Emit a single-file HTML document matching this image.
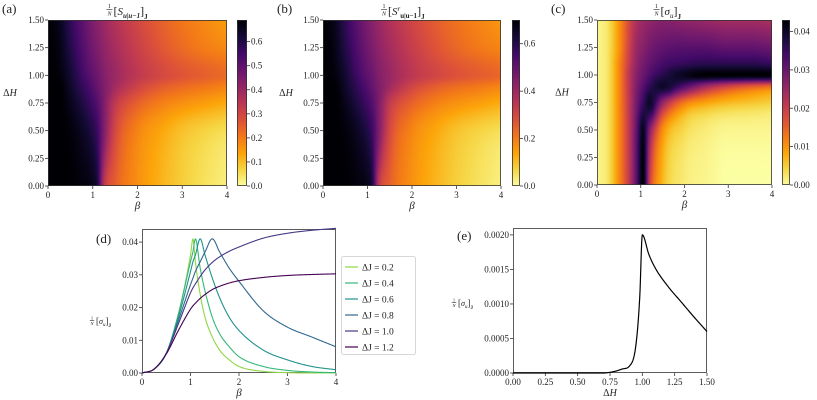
<!DOCTYPE html>
<html><head><meta charset="utf-8">
<style>
body{margin:0;width:817px;height:400px;background:#fff;position:relative;overflow:hidden;font-family:"Liberation Serif",serif}
canvas{position:absolute}
svg{position:absolute;left:0;top:0}
text{font-family:"Liberation Serif",serif;fill:#222}
</style></head><body>
<canvas id="ca" style="left:48px;top:20px" width="179" height="166"></canvas>
<canvas id="cb" style="left:323px;top:20px" width="178" height="166"></canvas>
<canvas id="cc" style="left:597px;top:20px" width="175" height="165"></canvas>
<canvas id="cba" style="left:237px;top:20px" width="10" height="166"></canvas>
<canvas id="cbb" style="left:512px;top:20px" width="8" height="166"></canvas>
<canvas id="cbc" style="left:782px;top:20px" width="8" height="165"></canvas>
<svg id="s" width="817" height="400"></svg>
<script>
// ---- heatmap data (a),(b) ----
const betaAB=[0,0.25,0.5,0.75,1,1.1,1.25,1.5,2,2.5,3,3.5,4];
const dhAB=[0,0.5,0.75,0.9,1.0,1.25,1.5];
const valsA=[
[0.69,0.69,0.69,0.68,0.66,0.62,0.35,0.25,0.17,0.12,0.08,0.05,0.025],
[0.69,0.69,0.68,0.65,0.60,0.56,0.45,0.30,0.19,0.14,0.10,0.075,0.055],
[0.69,0.69,0.66,0.61,0.55,0.52,0.45,0.34,0.25,0.20,0.17,0.15,0.13],
[0.69,0.69,0.64,0.58,0.52,0.49,0.45,0.39,0.31,0.26,0.23,0.21,0.19],
[0.69,0.68,0.63,0.56,0.50,0.48,0.44,0.40,0.34,0.30,0.27,0.25,0.23],
[0.69,0.67,0.60,0.53,0.47,0.45,0.42,0.38,0.32,0.27,0.23,0.20,0.18],
[0.69,0.66,0.58,0.51,0.45,0.43,0.40,0.36,0.30,0.25,0.21,0.18,0.15]];
const valsB=[
[0.70,0.70,0.70,0.69,0.67,0.63,0.35,0.25,0.17,0.12,0.08,0.05,0.025],
[0.70,0.70,0.69,0.66,0.61,0.57,0.46,0.30,0.19,0.14,0.10,0.075,0.055],
[0.70,0.70,0.67,0.62,0.56,0.53,0.46,0.34,0.25,0.20,0.17,0.15,0.13],
[0.70,0.70,0.65,0.59,0.53,0.50,0.46,0.40,0.31,0.26,0.23,0.21,0.19],
[0.70,0.69,0.64,0.57,0.51,0.49,0.45,0.41,0.35,0.31,0.28,0.26,0.24],
[0.70,0.68,0.61,0.54,0.48,0.46,0.43,0.39,0.33,0.28,0.24,0.21,0.19],
[0.70,0.67,0.59,0.52,0.46,0.44,0.41,0.37,0.31,0.26,0.22,0.19,0.16]];
// ---- heatmap (c) ----
const betaC=[0,0.25,0.5,0.75,0.9,1.05,1.2,1.5,2,2.5,3,3.5,4];
const dhC=[0,0.5,0.75,0.9,1.0,1.1,1.25,1.5];
const valsC=[
[0.001,0.003,0.011,0.022,0.032,0.043,0.020,0.007,0.002,0.001,0,0,0],
[0.001,0.003,0.011,0.022,0.031,0.041,0.028,0.011,0.004,0.002,0.001,0.001,0.001],
[0.001,0.003,0.011,0.022,0.029,0.035,0.040,0.026,0.013,0.009,0.007,0.006,0.005],
[0.001,0.003,0.011,0.022,0.028,0.032,0.036,0.040,0.033,0.025,0.020,0.017,0.015],
[0.001,0.003,0.011,0.022,0.027,0.030,0.033,0.037,0.041,0.043,0.043,0.043,0.043],
[0.001,0.003,0.011,0.021,0.026,0.029,0.031,0.034,0.036,0.037,0.037,0.037,0.036],
[0.001,0.003,0.010,0.020,0.025,0.027,0.029,0.031,0.032,0.032,0.031,0.031,0.030],
[0.001,0.003,0.010,0.019,0.023,0.025,0.026,0.027,0.026,0.025,0.024,0.024,0.023]];
const cbTicksA=[0,0.1,0.2,0.3,0.4,0.5,0.6];
const cbTicksB=[0,0.2,0.4,0.6];
const cbTicksC=[0,0.01,0.02,0.03,0.04];
const betaTicks=[0,1,2,3,4];
const dhTicks=[0,0.25,0.5,0.75,1.0,1.25,1.5];
// ---- panel (d) ----
const betaD=[0,0.25,0.5,0.75,1,1.05,1.1,1.2,1.3,1.45,1.6,1.8,2,2.5,3,3.5,4];
const dJ02=[0,0.0012,0.006,0.018,0.036,0.041,0.034,0.024,0.017,0.011,0.007,0.004,0.002,0.0005,0.0001,0,0];
const dJ04=[0,0.0012,0.006,0.018,0.034,0.037,0.041,0.032,0.025,0.017,0.012,0.008,0.005,0.002,0.0008,0.0003,0.0001];
const dJ06=[0,0.0012,0.006,0.017,0.031,0.034,0.036,0.041,0.036,0.029,0.023,0.017,0.013,0.007,0.004,0.002,0.001];
const dJ08=[0,0.0012,0.006,0.016,0.027,0.029,0.031,0.034,0.037,0.041,0.037,0.032,0.028,0.019,0.014,0.011,0.008];
const dJ10=[0,0.0012,0.006,0.015,0.0245,0.026,0.0272,0.0295,0.0315,0.0338,0.0355,0.0372,0.0385,0.0412,0.0427,0.0436,0.0442];
const dJ12=[0,0.0012,0.0058,0.013,0.0195,0.0205,0.0213,0.0228,0.024,0.0255,0.0265,0.0275,0.0282,0.0292,0.0298,0.0301,0.0303];
const dLabels=["ΔJ = 0.2","ΔJ = 0.4","ΔJ = 0.6","ΔJ = 0.8","ΔJ = 1.0","ΔJ = 1.2"];
const dColors=["#8fd744","#35b779","#21918c","#31688e","#443983","#440154"];
const dYTicks=[0,0.01,0.02,0.03,0.04];
// ---- panel (e) ----
const dhE=[0,0.5,0.7,0.75,0.8,0.85,0.9,0.95,0.98,1.0,1.05,1.1,1.2,1.3,1.4,1.5];
const valE=[0,0,0,0.00001,0.00003,0.00006,0.0001,0.0004,0.0011,0.002,0.00172,0.00152,0.00125,0.00103,0.00081,0.0006];
const eXTicks=[0,0.25,0.5,0.75,1.0,1.25,1.5];
const eYTicks=[0,0.0005,0.001,0.0015,0.002];

const stops=[[0,0,0,4],[.1,22,11,57],[.2,66,10,104],[.3,106,23,110],[.4,147,38,103],[.5,188,55,84],[.6,221,81,58],[.7,243,120,25],[.8,252,165,10],[.9,246,215,70],[1,252,255,164]];
function inferno(t){t=Math.max(0,Math.min(1,t));for(let i=1;i<stops.length;i++){if(t<=stops[i][0]){const a=stops[i-1],b=stops[i],f=(t-a[0])/(b[0]-a[0]);return[a[1]+f*(b[1]-a[1]),a[2]+f*(b[2]-a[2]),a[3]+f*(b[3]-a[3])];}}return[252,255,164];}
function mono(xs,ys){const n=xs.length,d=[],m=[];for(let i=0;i<n-1;i++)d.push((ys[i+1]-ys[i])/(xs[i+1]-xs[i]));
m[0]=d[0];m[n-1]=d[n-2];for(let i=1;i<n-1;i++){m[i]=(d[i-1]*d[i]<=0)?0:(d[i-1]+d[i])/2;}
for(let i=0;i<n-1;i++){if(d[i]===0){m[i]=0;m[i+1]=0;continue;}const a=m[i]/d[i],b=m[i+1]/d[i],s=a*a+b*b;if(s>9){const t=3/Math.sqrt(s);m[i]=t*a*d[i];m[i+1]=t*b*d[i];}}
return function(x){let i=0;while(i<n-2&&x>xs[i+1])i++;const h=xs[i+1]-xs[i],t=Math.max(0,Math.min(1,(x-xs[i])/h)),t2=t*t,t3=t2*t;
return (2*t3-3*t2+1)*ys[i]+(t3-2*t2+t)*h*m[i]+(-2*t3+3*t2)*ys[i+1]+(t3-t2)*h*m[i+1];};}
function heat(id,xs,ys,grid,vmax){const c=document.getElementById(id),g=c.getContext('2d'),W=c.width,H=c.height,im=g.createImageData(W,H);
const rowF=grid.map(r=>mono(xs,r));
for(let px=0;px<W;px++){const x=(px+0.5)/W*4;const col=rowF.map(f=>f(x));const cf=mono(ys,col);
for(let py=0;py<H;py++){const y=(1-(py+0.5)/H)*1.5;const v=cf(y);const cc=inferno(1-v/vmax);const k=(py*W+px)*4;im.data[k]=cc[0];im.data[k+1]=cc[1];im.data[k+2]=cc[2];im.data[k+3]=255;}}
g.putImageData(im,0,0);}
function cbar(id){const c=document.getElementById(id),g=c.getContext('2d');for(let py=0;py<c.height;py++){const col=inferno(py/c.height);g.fillStyle=`rgb(${col[0]|0},${col[1]|0},${col[2]|0})`;g.fillRect(0,py,c.width,1);}}
heat('ca',betaAB,dhAB,valsA,0.69);heat('cb',betaAB,dhAB,valsB,0.70);heat('cc',betaC,dhC,valsC,0.043);
cbar('cba');cbar('cbb');cbar('cbc');

const S=document.getElementById('s'),NS='http://www.w3.org/2000/svg';
function el(t,a,p){const e=document.createElementNS(NS,t);for(const k in a)e.setAttribute(k,a[k]);(p||S).appendChild(e);return e;}
function txt(x,y,s,size,anchor,name){const e=el('text',{x:x,y:y,'font-size':size,'text-anchor':anchor||'middle'});e.textContent=s;

return e;}
function frame(x0,y0,x1,y1,name){const r=el('rect',{x:x0+.5,y:y0+.5,width:x1-x0-1,height:y1-y0-1,fill:'none',stroke:'#333','stroke-width':0.8});

}
function tick(x1,y1,x2,y2){const l=el('line',{x1:x1,y1:y1,x2:x2,y2:y2,stroke:'#333','stroke-width':0.8});

}
function fmt(v,d){return v.toFixed(d);}
function mlabel(x,y,parts,name,anchor){const t=el('text',{x:x,y:y,'text-anchor':anchor||'middle'});


parts.forEach(p=>{const s=el('tspan',{'font-size':p[1],dy:p[2]||0},t);if(p[3])s.setAttribute('font-style','italic');if(p[4])s.setAttribute('font-weight','bold');s.textContent=p[0];});return t;}
function frac(x,y,sc){txt(x,y-6*sc,'1',6*sc,'middle','frac-num');el('line',{x1:x-3*sc,y1:y-4.5*sc,x2:x+3*sc,y2:y-4.5*sc,stroke:'#222','stroke-width':0.6});
const n=txt(x,y+1.5*sc,'N',6*sc,'middle','frac-den');n.setAttribute('font-style','italic');}
function heatAxes(x0,y0,x1,y1,cbx,cbw,vmax,cbt,cbd,lbl,titleParts,dhx){
frame(x0,y0,x1,y1,'plot-frame');
betaTicks.forEach(b=>{const x=x0+b/4*(x1-x0);tick(x,y1,x,y1+3);txt(x,y1+12,String(b),9,'middle','x-tick-label');});
dhTicks.forEach(h=>{const y=y1-h/1.5*(y1-y0);tick(x0-3,y,x0,y);txt(x0-4,y+3,fmt(h,2),9,'end','y-tick-label');});
txt((x0+x1)/2,y1+23,'β',11,'middle','x-axis-title').setAttribute('font-style','italic');
mlabel(dhx,(y0+y1)/2-7,[['Δ',10],['H',10,0,true]],'y-axis-title');
frame(cbx,y0,cbx+cbw,y1,'colorbar-frame');
cbt.forEach(v=>{const y=y1-v/vmax*(y1-y0);tick(cbx+cbw,y,cbx+cbw+3,y);txt(cbx+cbw+4,y+3,fmt(v,cbd),9,'start','colorbar-tick-label');});
txt(x0-46,13,lbl,13,'start','panel-label');
const cx=(x0+x1)/2;
frac(cx-28,14,1);
mlabel(cx-24,15,titleParts,'panel-title','start');
}
heatAxes(48,20,227,186,237,10,0.69,cbTicksA,1,'(a)',[['[',12],['S',11,0,true],['u|u−1',7,3,true,true],[']',12,-3],['J',7,4,false,true]],10);
heatAxes(323,20,501,186,512,8,0.70,cbTicksB,1,'(b)',[['[',12],['S',11,0,true],['r',7,-4,true],['u|u−1',7,7,false,true],[']',12,-3],['J',7,4,false,true]],286);
heatAxes(597,20,772,185,782,8,0.043,cbTicksC,2,'(c)',[['[',12],['σ',11,0,true],['u',7,3,true],[']',12,-3],['J',7,4,false,true]],562);

function ylab(x,y){frac(x-14,y,0.75);mlabel(x-10,y,[['[',9],['σ',8,0,true],['u',5,2,true],[']',9,-2],['J',5,3,false,true]],'y-axis-title','start');}
// panel d
(function(){const x0=142,x1=336,y0=229,y1=373,ym=0.044;
const X=b=>x0+b/4*(x1-x0),Y=v=>y1-v/ym*(y1-y0);
frame(x0,y0,x1,y1,'plot-frame-d');
betaTicks.forEach(b=>{tick(X(b),y1,X(b),y1+3);txt(X(b),y1+12,String(b),9,'middle','x-tick-label');});
dYTicks.forEach(v=>{tick(x0-3,Y(v),x0,Y(v));txt(x0-4,Y(v)+3,fmt(v,2),9,'end','y-tick-label');});
txt((x0+x1)/2,y1+23,'β',11,'middle','x-axis-title').setAttribute('font-style','italic');
ylab(106,324);
txt(96,243,'(d)',13,'start','panel-label');
const ser=[dJ02,dJ04,dJ06,dJ08,dJ10,dJ12];
ser.forEach((s,k)=>{const f=mono(betaD,s);let d='';for(let i=0;i<=400;i++){const b=i/100;d+=(i?'L':'M')+X(b).toFixed(2)+','+Y(f(b)).toFixed(2);}
const p=el('path',{d:d,fill:'none',stroke:dColors[k],'stroke-width':1.1,'stroke-linejoin':'round'});

});
const lg=el('rect',{x:341.5,y:256.5,width:74,height:98,fill:'#fff',stroke:'#ccc','stroke-width':0.8,rx:2});


dLabels.forEach((l,k)=>{const y=267+k*16;el('line',{x1:345,y1:y,x2:358,y2:y,stroke:dColors[k],'stroke-width':1.2});txt(362,y+3.5,l,9.5,'start','legend-entry');});
})();
// panel e
(function(){const x0=513,x1=707,y0=228,y1=373,ym=0.0021;
const X=h=>x0+h/1.5*(x1-x0),Y=v=>y1-v/ym*(y1-y0);
frame(x0,y0,x1,y1,'plot-frame-e');
eXTicks.forEach(h=>{tick(X(h),y1,X(h),y1+3);txt(X(h),y1+12,fmt(h,2),9,'middle','x-tick-label');});
eYTicks.forEach(v=>{tick(x0-3,Y(v),x0,Y(v));txt(x0-4,Y(v)+3,fmt(v,4),9,'end','y-tick-label');});
mlabel((x0+x1)/2,y1+23,[['Δ',10],['H',10,0,true]],'x-axis-title');
ylab(468,306);
txt(457,240,'(e)',13,'start','panel-label');
const f=mono(dhE,valE);let d='';for(let i=0;i<=600;i++){const h=i/400;d+=(i?'L':'M')+X(h).toFixed(2)+','+Y(f(h)).toFixed(2);}
const p=el('path',{d:d,fill:'none',stroke:'#000','stroke-width':1.2});


})();
</script>
</body></html>
